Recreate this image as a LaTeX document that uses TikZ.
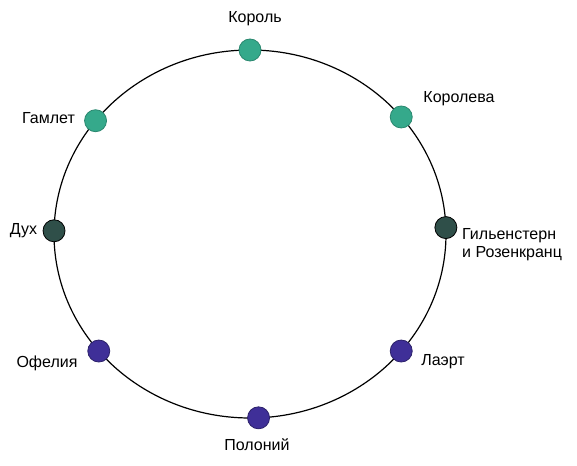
\documentclass[tikz,border=0pt]{standalone}
\usepackage{fontspec}
\setmainfont{Liberation Sans}
\usetikzlibrary{calc}
\begin{document}
\begin{tikzpicture}[x=1pt,y=-1pt,
  dot/.style={circle,inner sep=0pt,minimum size=22pt,line width=0.8pt},
  greendot/.style={dot,fill=dotgreen,draw=dotgreen!80!black},
  darkdot/.style={dot,fill=dotdark,draw=black},
  bluedot/.style={dot,fill=dotblue,draw=dotblue!70!black},
  lbl/.style={inner sep=0pt,font=\fontsize{16}{18}\selectfont,text=black}]
\definecolor{dotgreen}{HTML}{35A98B}
\definecolor{dotdark}{HTML}{2F4F49}
\definecolor{dotblue}{HTML}{3F2F98}
\useasboundingbox[fill=white] (0,0) rectangle (577,465);
\coordinate (c) at (250,234);
\draw[line width=1.2pt] (c) ellipse [x radius=196pt, y radius=184pt];
\node[greendot] (korol) at ($(c)+(90:196pt and 184pt)$) {};
\node[greendot] (hamlet) at ($(c)+(142:196pt and 184pt)$) {};
\node[greendot] (koroleva) at ($(c)+(39.5:196pt and 184pt)$) {};
\node[darkdot] (duh) at ($(c)+(179:196pt and 184pt)$) {};
\node[darkdot] (gil) at ($(c)+(2:196pt and 184pt)$) {};
\node[bluedot] (ofelia) at ($(c)+(219.5:196pt and 184pt)$) {};
\node[bluedot] (laert) at ($(c)+(320.5:196pt and 184pt)$) {};
\node[bluedot] (polonius) at ($(c)+(272.5:196pt and 184pt)$) {};
\node[lbl] (tkorol) at (255,19) {Король};
\node[lbl] (thamlet) at (48.5,118) {Гамлет};
\node[lbl] (tkoroleva) at (459,99) {Королева};
\node[lbl] (tduh) at (23.5,231) {Дух};
\node[lbl,anchor=north west,align=left] (tgil) at (462,228) {Гильенстерн\\и Розенкранц};
\node[lbl] (tofelia) at (47,363) {Офелия};
\node[lbl] (tlaert) at (443,362) {Лаэрт};
\node[lbl] (tpolonius) at (257,445) {Полоний};
\end{tikzpicture}
\end{document}
